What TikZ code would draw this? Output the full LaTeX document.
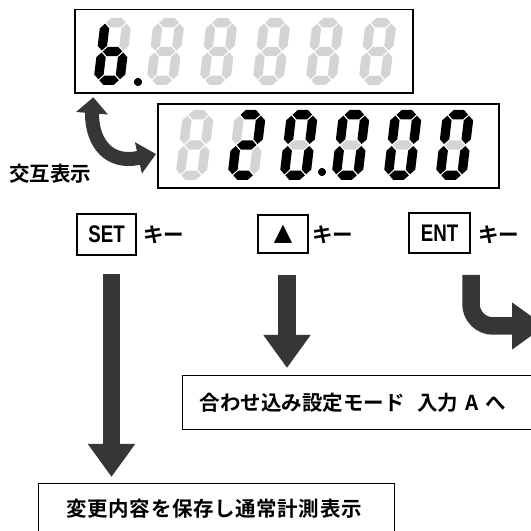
\documentclass[tikz,border=0pt]{standalone}
\usepackage{fontspec}
\usetikzlibrary{arrows.meta,calc,positioning}
\newfontfamily\jpfont{Noto Sans CJK JP Bold}
\newfontfamily\keyfont{Liberation Sans Bold}[FakeStretch=0.78]
\newfontfamily\symfont{DejaVu Sans}
\definecolor{segoff}{RGB}{212,212,212}
\definecolor{arrowgray}{RGB}{54,54,54}
\def\digith{67}
\def\sw{4.7}
\def\hseg[#1](#2,#3,#4){\fill[#1] ({#2+1},{#4}) -- ({#2+1+\sw},{#4+\sw}) -- ({#3-1-\sw},{#4+\sw}) -- ({#3-1},{#4}) -- ({#3-1-\sw},{#4-\sw}) -- ({#2+1+\sw},{#4-\sw}) -- cycle;}
\def\vseg[#1](#2,#3,#4){\fill[#1] ({#2},{#3+1}) -- ({#2+\sw},{#3+1+\sw}) -- ({#2+\sw},{#4-1-\sw}) -- ({#2},{#4-1}) -- ({#2-\sw},{#4-1-\sw}) -- ({#2-\sw},{#3+1+\sw}) -- cycle;}
\def\segdigit(#1,#2)#3#4#5#6#7#8#9{%
  \begin{scope}[shift={(#1,#2)},xslant=0.12]
    \hseg[#3](\sw,31-\sw,\digith-\sw)
    \vseg[#4](31-\sw,\digith/2,\digith-\sw)
    \vseg[#5](31-\sw,\sw,\digith/2)
    \hseg[#6](\sw,31-\sw,\sw)
    \vseg[#7](\sw,\sw,\digith/2)
    \vseg[#8](\sw,\digith/2,\digith-\sw)
    \hseg[#9](\sw,31-\sw,\digith/2)
  \end{scope}}

\begin{document}
\begin{tikzpicture}[x=1pt,y=1pt,
  lit/.style={fill=black},
  dim/.style={fill=segoff},
  display/.style={draw,line width=1.5pt,inner sep=0pt},
  keybox/.style={draw,line width=1.2pt,inner sep=0pt},
  keylabel/.style={font={\fontsize{20.5pt}{24pt}\selectfont\jpfont},inner sep=0pt,anchor=west},
  resultbox/.style={draw,line width=1.3pt,font={\fontsize{20.5pt}{24pt}\selectfont\jpfont},anchor=north west,align=left},
  bigarrow/.style={draw=arrowgray,line width=17.5pt,-{Triangle[length=33pt,width=45pt]}},
  swaparrow/.style={draw=arrowgray,line width=14pt,{Triangle[length=16pt,width=31pt]}-{Triangle[length=18pt,width=31pt]}}]
  \useasboundingbox (0,0) rectangle (531,531);

  %%%%% displays %%%%%
  \node[display,minimum width=338pt,minimum height=83.5pt] (topdisp) at (244,479.75) {};
  \segdigit(93,446){dim}{dim}{lit}{lit}{lit}{lit}{lit}
  \foreach \dx in {146,199,252,305,358}
    \segdigit(\dx,446){dim}{dim}{dim}{dim}{dim}{dim}{dim}
  \fill[lit] (138,449) circle (3.8);

  \node[display,minimum width=341pt,minimum height=84pt] (botdisp) at (328.5,385) {};
  \def\digith{70}
  \segdigit(175,351){dim}{dim}{dim}{dim}{dim}{dim}{dim}
  \segdigit(227,351){lit}{lit}{dim}{lit}{lit}{dim}{lit}
  \foreach \dx in {279,331,383,435}
    \segdigit(\dx,351){lit}{lit}{lit}{lit}{lit}{lit}{dim}
  \fill[lit] (322,359) circle (3.8);

  \coordinate (swapa) at (93.3,433.7);
  \coordinate (swapb) at (156,377);
  \draw[swaparrow] (swapa) -- (92,417.5) .. controls (92,388) and (109,367) .. (138,373) -- (swapb);
  \node[keylabel] (swaplabel) at (9,357) {交互表示};

  %%%%% keys %%%%%
  \node[keybox,minimum width=59pt,minimum height=41pt,font={\fontsize{24pt}{26pt}\selectfont\keyfont}] (setkey) at (106.5,296.5) {SET};
  \node[keybox,minimum width=50pt,minimum height=38pt,font={\fontsize{24pt}{26pt}\selectfont\symfont}] (upkey) at (283,297) {▲};
  \node[keybox,minimum width=61pt,minimum height=40pt,font={\fontsize{24pt}{26pt}\selectfont\keyfont}] (entkey) at (439.5,298) {ENT};
  \node[keylabel] (setlabel) at (143,296) {キー};
  \node[keylabel] (uplabel) at (312,296) {キー};
  \node[keylabel] (entlabel) at (478,296) {キー};

  %%%%% results %%%%%
  \node[resultbox,inner xsep=17pt,text width=380pt,minimum height=54pt] (adjbox) at (182,156) {合わせ込み設定モード\hspace{6pt} 入力 A へ};
  \node[resultbox,inner xsep=28pt,text width=300pt,minimum height=50pt,font={\fontsize{20.5pt}{24pt}\selectfont\jpfont\addfontfeatures{LetterSpace=3}}] (savebox) at (38,48) {変更内容を保存し通常計測表示};

  \coordinate (setfrom) at (111.5,257);
  \draw[bigarrow] (setfrom) -- ($(setfrom |- savebox.north)+(0,6)$);
  \coordinate (upfrom) at (287,256);
  \draw[bigarrow] (upfrom) -- ($(upfrom |- adjbox.north)+(0,7)$);
  \coordinate (entfrom) at (471,256);
  \coordinate (entto) at (545,205);
  \draw[bigarrow,rounded corners=22pt] (entfrom) |- (entto);
\end{tikzpicture}
\end{document}
